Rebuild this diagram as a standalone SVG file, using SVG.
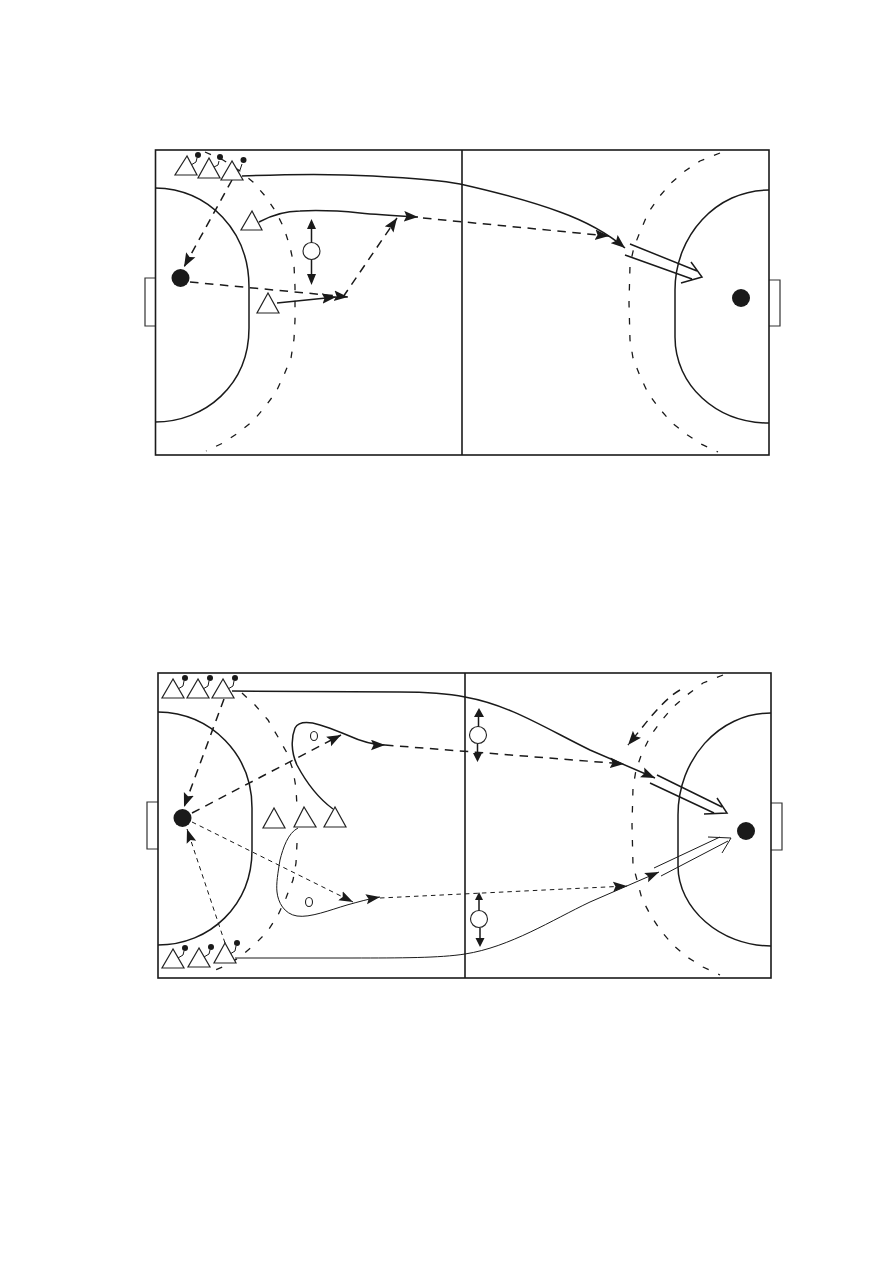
<svg xmlns="http://www.w3.org/2000/svg" width="893" height="1263" viewBox="0 0 893 1263">
<defs>
<marker id="ah" markerUnits="userSpaceOnUse" markerWidth="15" markerHeight="12" refX="14" refY="5.500" orient="auto"><path d="M0 .2L14 5.500L0 10.800L2.500 5.500Z" fill="#1a1a1a"/></marker>
<marker id="ahs" markerUnits="userSpaceOnUse" markerWidth="15" markerHeight="12" refX="14" refY="5.500" orient="auto"><path d="M0 .5L14 5.500L0 10.500L2.500 5.500Z" fill="#1a1a1a"/></marker>
</defs>
<style>
.court{fill:none;stroke:#1a1a1a;stroke-width:1.600}
.arc{fill:none;stroke:#1a1a1a;stroke-width:1.500}
.goal{fill:#fff;stroke:#333;stroke-width:1.200}
.nine{fill:none;stroke:#1a1a1a;stroke-width:1.300;stroke-dasharray:6.500 10.500}
.tri{fill:#fff;stroke:#222;stroke-width:1.200}
.disc{fill:#1a1a1a}
.ring{fill:#fff;stroke:#222;stroke-width:1.100}
.run{fill:none;stroke:#1a1a1a;stroke-width:1.500}
.thin{fill:none;stroke:#1a1a1a;stroke-width:1}
.pass{fill:none;stroke:#1a1a1a;stroke-width:1.500;stroke-dasharray:8.500 6.500}
.fine{fill:none;stroke:#1a1a1a;stroke-width:1;stroke-dasharray:4.500 4}
.arrow{fill:none;stroke:#1a1a1a;stroke-width:1.500}
.tail{fill:none;stroke:#1a1a1a;stroke-width:1}
</style>
<rect width="893" height="1263" fill="#fff"/>
<g id="court1">
<path class="goal" d="M155 278H145V326H155"/><path class="goal" d="M769 280H780V326H769"/>
<rect class="court" x="155.500" y="150" width="613.500" height="305"/>
<path class="court" d="M462 150V455"/>
<path class="arc" d="M155 188C210 189 249 232 249 287V328C249 385 205 422 155 422"/>
<path class="arc" d="M769 190C716 190 675 236 675 290V337C675 385 716 423 769 423"/>
<polyline class="nine" points="205,152 223,160 240,171 253,182 266,197 276,212 284,228 290,247 294,265 295,287 295,320 294,339 291,358 284,375 276,392 265,407 253,421 238,433 223,443 206,451"/>
<polyline class="nine" points="720,153 700,161 685,171 671,183 659,197 648,213 640,232 634,247 630,265 629,303 630,340 633,358 640,376 648,393 659,408 671,422 686,434 701,444 718,452"/>
</g>
<g id="court2">
<path class="goal" d="M158 802H147V849H158"/><path class="goal" d="M771 803H782V850H771"/>
<rect class="court" x="158" y="673" width="613" height="305"/>
<path class="court" d="M465 673V978"/>
<path class="arc" d="M158 712C212 713 252 755 252 808V850C252 905 210 945 158 945"/>
<path class="arc" d="M771 713C718 713 678 760 678 815V866C678 908 720 946 771 946"/>
<polyline class="nine" points="242,693 255,705 268,720 278,737 287,753 293,770 296,788 297,807"/>
<polyline class="nine" points="297,843 296,863 293,880 286,898 278,915 267,932 255,944 240,957 225,966 208,973"/>
<polyline class="nine" points="723,675 703,683 687,695 673,707 662,720 651,735 642,753 636,770 633,788 632,825 633,865 642,899 651,916 661,931 673,945 687,957 703,967 720,975"/>
</g>
<g id="connectors">
<path class="run" marker-end="url(#ah)" d="M242 176C290 174 340 174 373 176C410 178 440 180 460 184C500 193 530 201 560 212C585 221 607 233 625 248"/>
<path class="run" marker-end="url(#ah)" d="M259 222C272 215 285 211 300 211C320 210 340 211 360 213C380 215 400 216 418 217"/>
<path class="run" marker-end="url(#ah)" d="M277 303L336 297"/>
<path class="pass" marker-end="url(#ah)" d="M232 180L184 267"/>
<path class="pass" marker-end="url(#ah)" d="M190 282L348 297"/>
<path class="pass" marker-end="url(#ah)" d="M343 297L397 218"/>
<path class="pass" marker-end="url(#ah)" d="M423 218L609 236"/>
<path class="arrow" d="M311.500 228V243M311.500 259V275"/>
<path d="M307 229L311.500 219L316 229ZM307 274L311.500 285L316 274Z" fill="#1a1a1a"/>
<path class="arrow" d="M630 244L697 271M625 255L692 279M691 262L702 277L681 283"/>

<path class="run" marker-end="url(#ah)" d="M232 691L400 692C430 692 450 694 465 697C510 705 545 728 590 750L655 778"/>
<path class="run" marker-end="url(#ah)" d="M333 809C318 798 306 782 297 765C291 752 291 738 295 728C299 721 310 722 320 725C330 728 337 731 347 735C358 740 370 745 385 745"/>
<path class="thin" marker-end="url(#ahs)" d="M298 828C288 833 283 848 280 860C278 872 276 884 277 892C278 902 284 914 297 916C310 918 330 910 347 905C358 902 368 899 380 897"/>
<path class="thin" marker-end="url(#ahs)" d="M235 958L353 958C400 958 440 958 465 954C510 947 552 920 590 902L659 872"/>
<path class="pass" marker-end="url(#ah)" d="M224 699L184 807"/>
<path class="pass" marker-end="url(#ah)" d="M192 813L341 735"/>
<path class="pass" marker-end="url(#ah)" d="M385 745L624 764"/>
<path class="pass" marker-end="url(#ah)" d="M680 690C662 700 643 727 628 745"/>
<path class="fine" marker-end="url(#ahs)" d="M225 943L187 829"/>
<path class="fine" marker-end="url(#ahs)" d="M192 822L353 902"/>
<path class="fine" marker-end="url(#ahs)" d="M380 898L627 886"/>
<path class="arrow" d="M657 775L722 807M650 783L714 813M717 798L727 813L704 814"/>
<path class="tail" d="M654 868L720 837M661 876L728 841M708 837L731 838L722 853"/>
<path class="arrow" d="M478.500 716V727M477.500 744V754"/>
<path d="M474 717L479 708L484 717ZM473 753L477.500 762L482 753Z" fill="#1a1a1a"/>
<path class="arrow" d="M479 899V911M480 928V939"/>
<path d="M475 900L479 892L483 900ZM475.500 938L480 947L484.500 938Z" fill="#1a1a1a"/>
<path class="tail" d="M197 158L196 162L191 165M219 161L218 165L214 167M242 164L240 170L237 172"/>
<path class="tail" d="M184 681L183 686L178 689M209 681L208 686L203 689M234 681L233 686L228 689"/>
<path class="tail" d="M184 951L183 955L178 958M210 950L209 954L204 957M236 946L235 951L230 954"/>
</g>
<g id="ball-tops">
<circle class="disc" cx="198" cy="155" r="3"/><circle class="disc" cx="220" cy="157" r="3"/><circle class="disc" cx="243.500" cy="160" r="3"/>
<circle class="disc" cx="185" cy="678" r="3"/><circle class="disc" cx="210" cy="678" r="3"/><circle class="disc" cx="235" cy="678" r="3"/>
<circle class="disc" cx="185" cy="948" r="3"/><circle class="disc" cx="211" cy="947" r="3"/><circle class="disc" cx="237" cy="943" r="3"/>
</g>
<g id="players">
<path class="tri" d="M187 156L175 175H197Z"/><path class="tri" d="M209 158L198 178H220Z"/><path class="tri" d="M232 161L221 180H243Z"/>
<path class="tri" d="M252 211L241 230H262Z"/><path class="tri" d="M268 293L257 313H279Z"/>
<path class="tri" d="M173 679L162 698H184Z"/><path class="tri" d="M198 679L187 698H209Z"/><path class="tri" d="M223 679L212 698H234Z"/>
<path class="tri" d="M274 808L263 828H285Z"/><path class="tri" d="M304 807L294 827H316Z"/><path class="tri" d="M335 807L324 827H346Z"/>
<path class="tri" d="M173 949L162 968H184Z"/><path class="tri" d="M199 948L188 967H210Z"/><path class="tri" d="M225 943L214 963H236Z"/>
</g>
<g id="keepers">
<circle class="disc" cx="180.500" cy="278" r="9"/><circle class="disc" cx="741" cy="298" r="9"/>
<circle class="disc" cx="182.500" cy="818" r="9"/><circle class="disc" cx="746" cy="831" r="9"/>
</g>
<g id="markers">
<circle class="ring" cx="311.500" cy="251" r="8.500"/>
<circle class="ring" cx="478" cy="735" r="8.500"/>
<circle class="ring" cx="479" cy="919" r="8.500"/>
<ellipse class="ring" cx="314" cy="736" rx="3.500" ry="4.500"/>
<ellipse class="ring" cx="309" cy="902" rx="3.500" ry="4.500"/>
</g>
</svg>
